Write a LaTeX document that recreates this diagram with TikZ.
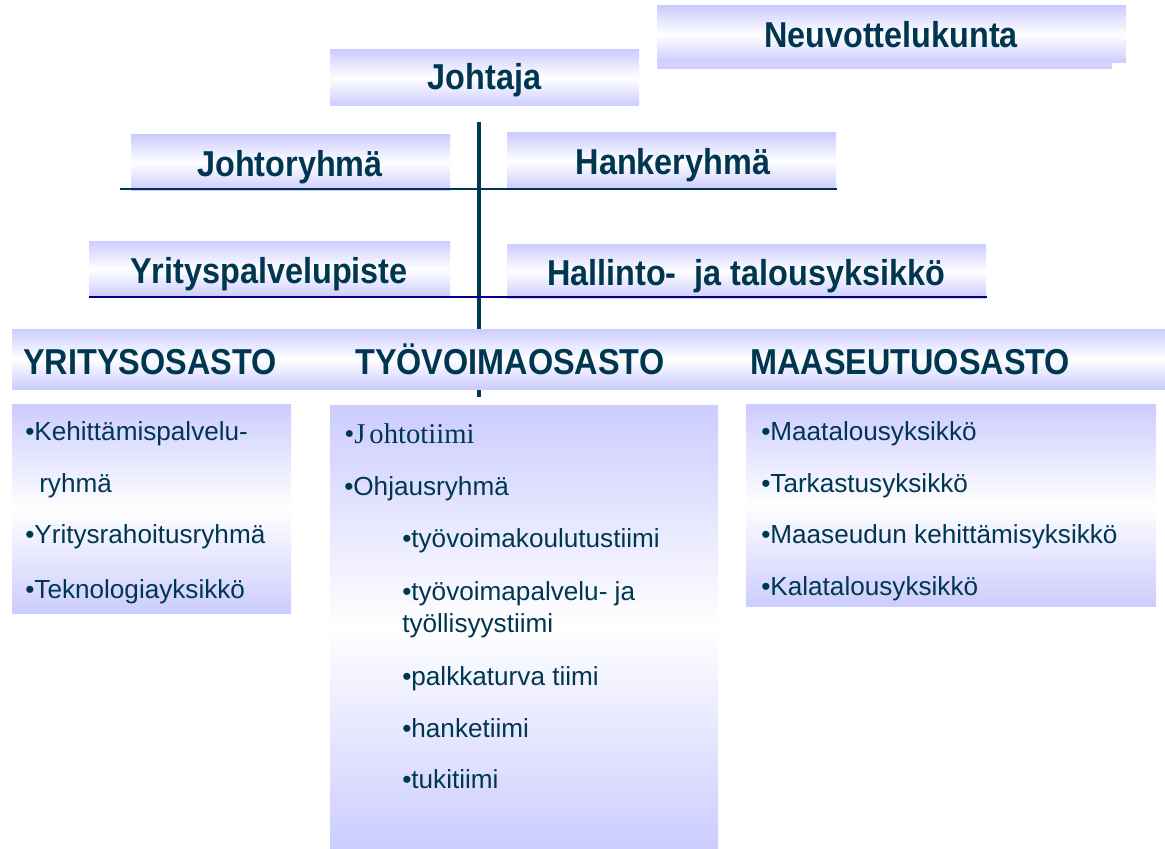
\documentclass[tikz,border=0pt]{standalone}
\usepackage{fontspec}
\setmainfont{Liberation Sans}
\newfontfamily\serifJ{Liberation Serif}
\newfontfamily\headfont[FakeStretch=0.9]{Liberation Sans}
\usetikzlibrary{fit}
\definecolor{lav}{RGB}{204,204,255}
\definecolor{txt}{RGB}{0,55,80}
\definecolor{navyline}{RGB}{0,0,128}
\begin{document}
\begin{tikzpicture}[x=0.75pt,y=-0.75pt,
  box/.style={draw=none, top color=lav, bottom color=lav, middle color=white, inner sep=0pt},
  head/.style={font=\headfont\fontsize{27}{32}\selectfont\bfseries, text=txt, anchor=base, inner sep=0pt},
  item/.style={font=\fontsize{19.6}{23}\selectfont, text=txt, anchor=base west, inner sep=0pt},
  vline/.style={draw=txt, line width=3pt},
  hline/.style={draw=txt, line width=2.2pt},
  nline/.style={draw=navyline, line width=2.2pt}]
\useasboundingbox (0,0) rectangle (1165,849);
% upper boxes
\node[box, fit={(657,7)(1112,69)}] (neuvB) {};
\node[box, fit={(657,6)(1126,63)}] (neuv) {};
\node[box, fit={(330,50)(639,106)}] (johtaja) {};
\node[box, fit={(131,135)(450,190)}] (johtoryhma) {};
\node[box, fit={(507,133)(836,189)}] (hanke) {};
\node[box, fit={(89,241)(450,297)}] (yrityspp) {};
\node[box, fit={(507,244)(986,298)}] (hallinto) {};
% vertical line
\coordinate (vtop) at (479,122);
\coordinate (vbot) at (479,397);
\draw[vline] (vtop) -- (vbot);
% horizontal lines
\coordinate (h1l) at (120,189);
\coordinate (h1r) at (837,189);
\draw[hline] (h1l) -- (h1r);
\coordinate (h2l) at (89,297);
\coordinate (h2r) at (987,297);
\draw[nline] (h2l) -- (h2r);
% division bar
\node[box, fit={(12,329)(1165,389)}] (bar) {};
% lower boxes
\node[box, fit={(12,404)(291,613)}] (yribox) {};
\node[box, fit={(330,405)(718,849)}] (tyobox) {};
\node[box, fit={(746,404)(1156,606)}] (maabox) {};
% headings
\node[head] (tneuv) at (891,48) {Neuvottelukunta};
\node[head] (tjohtaja) at (484.5,90) {Johtaja};
\node[head] (tjohtor) at (290,176) {Johtoryhmä};
\node[head] (thanke) at (673,175) {Hankeryhmä};
\node[head] (tyrpp) at (269,283) {Yrityspalvelupiste};
\node[head] (thall) at (746,285) {Hallinto-\ \ ja talousyksikkö};
\node[head, anchor=base west] (tyri) at (23,374) {YRITYSOSASTO};
\node[head, anchor=base west] (ttyo) at (355,374) {TYÖVOIMAOSASTO};
\node[head, anchor=base west] (tmaa) at (750,374) {MAASEUTUOSASTO};
% left items
\node[item] (l1) at (25,440) {•Kehittämispalvelu-};
\node[item] (l2) at (39,492) {ryhmä};
\node[item] (l3) at (25,543) {•Yritysrahoitusryhmä};
\node[item] (l4) at (25,598) {•Teknologiayksikkö};
% middle items
\node[item, font=\fontsize{21.5}{25}\serifJ] (m1) at (344,443) {•J\hspace{3pt}ohtotiimi};
\node[item] (m2) at (344,495) {•Ohjausryhmä};
\node[item] (m3) at (402,547) {•työvoimakoulutustiimi};
\node[item] (m4) at (402,600) {•työvoimapalvelu- ja};
\node[item] (m5) at (402,632) {työllisyystiimi};
\node[item] (m6) at (402,685) {•palkkaturva tiimi};
\node[item] (m7) at (402,737) {•hanketiimi};
\node[item] (m8) at (402,788) {•tukitiimi};
% right items
\node[item] (r1) at (761,440) {•Maatalousyksikkö};
\node[item] (r2) at (761,492) {•Tarkastusyksikkö};
\node[item] (r3) at (761,543) {•Maaseudun kehittämisyksikkö};
\node[item] (r4) at (761,595) {•Kalatalousyksikkö};
\end{tikzpicture}
\end{document}
